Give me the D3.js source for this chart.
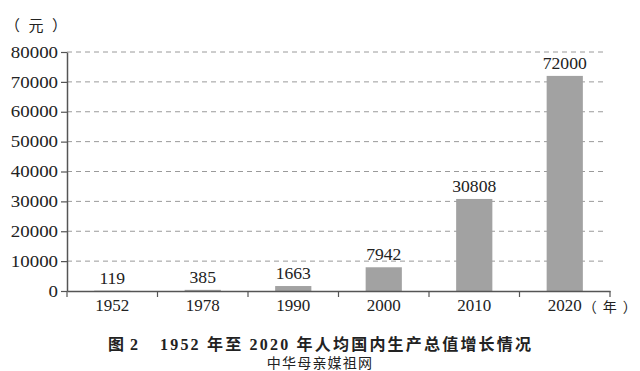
<!DOCTYPE html>
<html>
<head>
<meta charset="utf-8">
<script src="https://cdn.jsdelivr.net/npm/d3@7"></script>
<style>
  body { margin: 0; background: #fff; }
  svg text { font-family: 'Liberation Serif', 'Times New Roman', 'Noto Sans CJK SC', serif; fill: #222; }
</style>
</head>
<body>
<div id="chart"></div>
<script>
// Dữ liệu
const years = ["1952", "1978", "1990", "2000", "2010", "2020"];
const gdpPerCapita = [119, 385, 1663, 7942, 30808, 72000];
const yTicks = [0, 10000, 20000, 30000, 40000, 50000, 60000, 70000, 80000];
const yUnit = "（元）";
const xUnit = "（年）";
const titleParts = ["图 2", "1952 年至 2020 年人均国内生产总值增长情况"];
const watermark = "中华母亲媒祖网";

const data = years.map((y, i) => ({ year: y, value: gdpPerCapita[i] }));

const serif = "'Liberation Serif', 'Times New Roman', 'Noto Sans CJK SC', serif";

const W = 640, H = 371;
const margin = { top: 52, right: 30, bottom: 80, left: 67 };
const width = W - margin.left - margin.right,
    height = H - margin.top - margin.bottom;

const svg = d3.select("#chart")
    .append("svg")
    .attr("width", W)
    .attr("height", H)
    .attr("font-family", serif);

const chart = svg.append("g")
    .attr("transform", `translate(${margin.left},${margin.top})`);

// Thang đo
const x = d3.scaleBand()
    .domain(years)
    .range([0, width])
    .paddingInner(0.6)
    .paddingOuter(0.3);

const y = d3.scaleLinear()
    .domain([0, 80000])
    .range([height, 0]);

// Lưới nét đứt
chart.append("g")
    .selectAll("line")
    .data(yTicks.filter(d => d > 0))
    .enter()
    .append("line")
    .attr("x1", 0)
    .attr("x2", width - 4)
    .attr("y1", d => y(d))
    .attr("y2", d => y(d))
    .attr("stroke", "#9a9a9a")
    .attr("stroke-width", 1)
    .attr("stroke-dasharray", "5,4");

// Cột
chart.selectAll(".bar")
    .data(data)
    .enter()
    .append("rect")
    .attr("class", "bar")
    .attr("x", d => x(d.year))
    .attr("y", d => y(d.value))
    .attr("width", x.bandwidth())
    .attr("height", d => height - y(d.value))
    .attr("fill", "#a2a2a2");

// Nhãn giá trị
chart.selectAll(".label")
    .data(data)
    .enter()
    .append("text")
    .attr("class", "label")
    .attr("text-anchor", "middle")
    .attr("transform", d => `translate(${x(d.year) + x.bandwidth() / 2},${y(d.value) - 7}) scale(1.1,1)`)
    .style("font-size", "16px")
    .text(d => d.value);

// Trục Y
const yAxis = chart.append("g")
    .call(d3.axisLeft(y).tickValues(yTicks).tickFormat(d3.format("d"))
        .tickSize(6).tickPadding(2).tickSizeOuter(0));
yAxis.attr("font-family", serif);
yAxis.select(".domain").attr("stroke", "#555").attr("stroke-width", 1.5);
yAxis.selectAll(".tick line").attr("stroke", "#555").attr("stroke-width", 1.2);
yAxis.selectAll(".tick text")
    .attr("x", null)
    .attr("transform", "translate(-9,0) scale(1.18,1)")
    .style("font-size", "16px")
    .attr("fill", "#222");

// Trục X
const xAxis = chart.append("g")
    .attr("transform", `translate(0,${height})`)
    .call(d3.axisBottom(x).tickSize(0).tickPadding(8).tickSizeOuter(0));
xAxis.attr("font-family", serif);
xAxis.select(".domain").attr("stroke", "#555").attr("stroke-width", 1.5);
xAxis.selectAll(".tick text")
    .style("font-size", "17px")
    .attr("fill", "#222");

// Vạch chia ở ranh giới các nhóm
const gap = x.step() - x.bandwidth();
const bounds = years.map(d => x(d) - gap / 2).concat([width]);
bounds[0] = 0;
chart.append("g")
    .selectAll("line")
    .data(bounds)
    .enter()
    .append("line")
    .attr("x1", d => d)
    .attr("x2", d => d)
    .attr("y1", height)
    .attr("y2", height + 6)
    .attr("stroke", "#555")
    .attr("stroke-width", 1.2);

// Đơn vị
svg.append("text")
    .attr("x", 5)
    .attr("y", 31)
    .attr("textLength", 62)
    .attr("lengthAdjust", "spacing")
    .style("font-size", "15px")
    .text(yUnit);

svg.append("text")
    .attr("x", margin.left + x("2020") + x.bandwidth() / 2 + 18)
    .attr("y", margin.top + height + 21)
    .attr("textLength", 54)
    .attr("lengthAdjust", "spacing")
    .style("font-size", "14px")
    .text(xUnit);

// Tiêu đề
const title = svg.append("text")
    .attr("x", 108)
    .attr("y", 350)
    .style("font-size", "16px")
    .style("font-weight", "bold");
title.append("tspan").style("letter-spacing", "1px").text(titleParts[0]);
title.append("tspan").attr("x", 160).style("letter-spacing", "2.2px").text(titleParts[1]);

svg.append("text")
    .attr("x", 320)
    .attr("y", 368)
    .attr("text-anchor", "middle")
    .style("font-family", "'Noto Sans CJK SC', sans-serif")
    .style("font-size", "14px")
    .style("letter-spacing", "1.2px")
    .attr("fill", "#333")
    .text(watermark);
</script>
</body>
</html>
